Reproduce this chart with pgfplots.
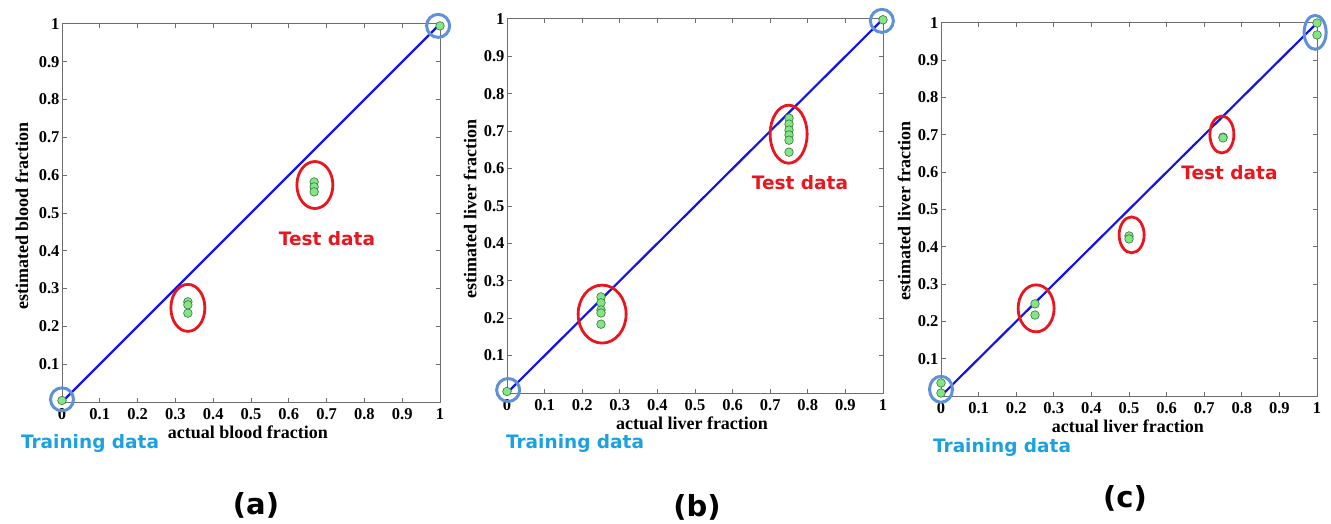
\documentclass[border=0pt]{standalone}
\usepackage{fontspec}
\setmainfont{Liberation Serif}
\newfontfamily\annfont{DejaVu Sans}
\usepackage{pgfplots}
\pgfplotsset{compat=1.18}
\definecolor{trainc}{RGB}{27,161,226}
\definecolor{testc}{RGB}{232,22,30}
\definecolor{ringc}{RGB}{95,145,215}
\definecolor{ptfill}{RGB}{130,230,130}
\definecolor{ptedge}{RGB}{55,115,65}
\definecolor{axgray}{RGB}{110,110,110}
\definecolor{linec}{RGB}{20,20,230}
\tikzset{
  testring/.style={testc, line width=2.8pt},
  trainring/.style={ringc, line width=3pt},
}
\pgfplotsset{
  mystyle/.style={
    scale only axis,
    xmin=0,xmax=1,ymin=0,ymax=1,
    xtick={0,0.1,0.2,0.3,0.4,0.5,0.6,0.7,0.8,0.9,1},
    ytick={0.1,0.2,0.3,0.4,0.5,0.6,0.7,0.8,0.9,1},
    tick align=inside, major tick length=4.5pt,
    axis line style={axgray, line width=1pt},
    every tick/.style={axgray, line width=1pt},
    tick label style={font=\bfseries\fontsize{16.5}{16.5}\selectfont, black},
    yticklabel style={xshift=1pt},
    xticklabel style={yshift=-3pt},
    /pgf/number format/assume math mode=true,
    label style={font=\bfseries\fontsize{18}{18}\selectfont},
    clip=false,
    anchor=south west,
  },
  pts/.style={only marks, mark=*, mark size=4.3pt, mark options={fill=ptfill, draw=ptedge, line width=0.6pt}},
  diag/.style={linec, line width=2.2pt},
}
\begin{document}
\begin{tikzpicture}
\useasboundingbox (0,0) rectangle (1331pt,523pt);
% ---------------- (a)
\begin{axis}[mystyle, at={(62pt,121pt)}, width=378pt, height=378pt,
  xlabel={actual blood fraction}, ylabel={estimated blood fraction},
  xlabel style={at={(axis description cs:0.492,-0.079)}, anchor=center},
  ylabel style={at={(axis description cs:-0.106,0.492)}, anchor=center}]
\addplot[diag] coordinates {(0,0) (1,1)};
\addplot[pts] coordinates {(0,0.004) (1,0.995) (0.333,0.265) (0.333,0.257) (0.333,0.235) (0.667,0.582) (0.667,0.569) (0.667,0.556)};
\draw[testring] (axis cs:0.333,0.249) ellipse [x radius=17pt, y radius=23.5pt];
\draw[testring] (axis cs:0.669,0.574) ellipse [x radius=18pt, y radius=23.5pt];
\draw[trainring] (axis cs:0,0.007) circle [radius=11.5pt];
\draw[trainring] (axis cs:0.995,0.995) circle [radius=11.5pt];
\end{axis}
% ---------------- (b)
\begin{axis}[mystyle, at={(507pt,130pt)}, width=376pt, height=374pt,
  xlabel={actual liver fraction}, ylabel={estimated liver fraction},
  xlabel style={at={(axis description cs:0.492,-0.080)}, anchor=center},
  ylabel style={at={(axis description cs:-0.098,0.492)}, anchor=center}]
\addplot[diag] coordinates {(0,0) (1,1)};
\addplot[pts] coordinates {(0,0.004) (1,0.998) (0.25,0.257) (0.25,0.241) (0.25,0.222) (0.25,0.214) (0.25,0.184) (0.75,0.735) (0.75,0.719) (0.75,0.703) (0.75,0.690) (0.75,0.676) (0.75,0.644)};
\draw[testring] (axis cs:0.253,0.211) ellipse [x radius=24pt, y radius=29pt];
\draw[testring] (axis cs:0.749,0.692) ellipse [x radius=18.5pt, y radius=29pt];
\draw[trainring] (axis cs:0.003,0.008) circle [radius=11.5pt];
\draw[trainring] (axis cs:0.997,0.995) circle [radius=11.5pt];
\end{axis}
% ---------------- (c)
\begin{axis}[mystyle, at={(941pt,127pt)}, width=376pt, height=373pt,
  xlabel={actual liver fraction}, ylabel={estimated liver fraction},
  xlabel style={at={(axis description cs:0.497,-0.080)}, anchor=center},
  ylabel style={at={(axis description cs:-0.098,0.496)}, anchor=center}]
\addplot[diag] coordinates {(0,0) (1,1)};
\addplot[pts] coordinates {(0,0.008) (0,0.035) (1,1.0) (1,0.968) (0.25,0.247) (0.25,0.217) (0.5,0.429) (0.5,0.421) (0.75,0.694) (0.75,0.692)};
\draw[testring] (axis cs:0.253,0.235) ellipse [x radius=18pt, y radius=23.5pt];
\draw[testring] (axis cs:0.507,0.432) ellipse [x radius=12.5pt, y radius=18pt];
\draw[testring] (axis cs:0.747,0.701) ellipse [x radius=12pt, y radius=18.5pt];
\draw[trainring] (axis cs:0,0.018) ellipse [x radius=11.5pt, y radius=13pt];
\draw[trainring] (axis cs:0.995,0.975) ellipse [x radius=11pt, y radius=17pt];
\end{axis}
% ---------------- annotations
\begin{scope}[every node/.style={font=\annfont\bfseries\fontsize{18.5}{18.5}\selectfont, inner sep=0pt}]
\node[text=testc] at (327pt,284pt) {Test data};
\node[text=testc] at (800pt,340pt) {Test data};
\node[text=testc] at (1229.5pt,350.5pt) {Test data};
\node[text=trainc] at (90pt,80pt) {Training data};
\node[text=trainc] at (575pt,80pt) {Training data};
\node[text=trainc] at (1002pt,76pt) {Training data};
\end{scope}
\begin{scope}[every node/.style={font=\annfont\bfseries\fontsize{29}{29}\selectfont, inner sep=0pt}]
\node at (256pt,18pt) {(a)};
\node at (697pt,16pt) {(b)};
\node at (1125pt,25pt) {(c)};
\end{scope}
\end{tikzpicture}
\end{document}
